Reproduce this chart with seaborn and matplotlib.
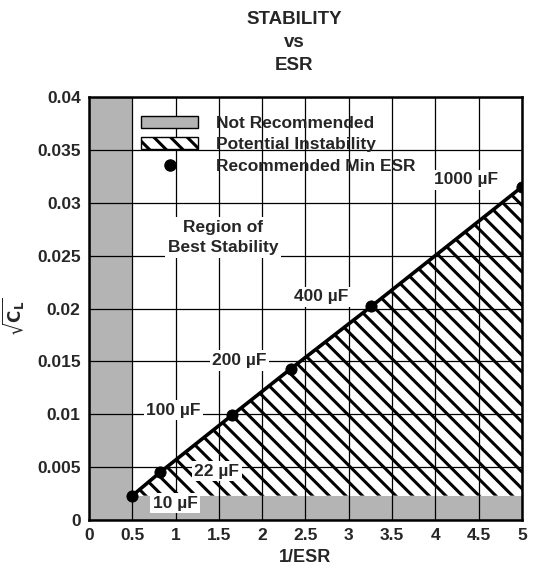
import matplotlib
matplotlib.use("Agg")
import matplotlib.pyplot as plt
import seaborn as sns
from matplotlib.patches import Patch
from matplotlib.lines import Line2D
from matplotlib.ticker import FormatStrFormatter

# capacitor values and their recommended minimum ESR points
cap_labels = ["10 \u00b5F", "22 \u00b5F", "100 \u00b5F", "200 \u00b5F", "400 \u00b5F", "1000 \u00b5F"]
inv_esr = [0.5, 0.82, 1.65, 2.33, 3.26, 5.0]
sqrt_cl = [0.0023, 0.0045, 0.0099, 0.0143, 0.0202, 0.0315]

# not recommended limits
min_inv_esr = 0.5
min_sqrt_cl = 0.0023

x_ticks = [0, 0.5, 1, 1.5, 2, 2.5, 3, 3.5, 4, 4.5, 5]
y_ticks = [0, 0.005, 0.01, 0.015, 0.02, 0.025, 0.03, 0.035, 0.04]

# label offsets in points (dx, dy) relative to each point
label_offsets = [(31, -5.5), (41, 1), (-42, 3.6), (-37, 6), (-36, 7), (-40, 5)]

sns.set_style("white")
plt.rcParams["font.family"] = ["Liberation Sans", "DejaVu Sans"]
plt.rcParams["font.weight"] = "bold"
plt.rcParams["hatch.linewidth"] = 2.2

fig = plt.figure(figsize=(5.36, 5.76), dpi=100)
ax = fig.add_axes([0.166, 0.0972, 0.8078, 0.7344])

grey = "#b4b4b4"
ax.axvspan(0, min_inv_esr, color=grey, lw=0, zorder=1)
ax.axhspan(0, min_sqrt_cl, color=grey, lw=0, zorder=1)
ax.fill_between(inv_esr, min_sqrt_cl, sqrt_cl, facecolor="white", edgecolor="black",
                hatch="\\\\", linewidth=0, zorder=1.2)

sns.lineplot(x=inv_esr, y=sqrt_cl, color="black", linewidth=2.6, ax=ax, zorder=3)
sns.scatterplot(x=inv_esr, y=sqrt_cl, color="black", s=65, edgecolor="black", ax=ax, zorder=4)

fs = 12.5
for lab, x, y, off in zip(cap_labels, inv_esr, sqrt_cl, label_offsets):
    ax.annotate(lab, (x, y), textcoords="offset points", xytext=off, ha="center", va="center",
                fontsize=fs, fontweight="bold", zorder=5,
                bbox=dict(boxstyle="square,pad=0.15", fc="white", ec="none"))

ax.text(1.55, 0.0267, "Region of\nBest Stability", ha="center", va="center", fontsize=fs,
        fontweight="bold", linespacing=1.45, zorder=5,
        bbox=dict(boxstyle="square,pad=0.15", fc="white", ec="none"))

ax.set_xlim(0, 5)
ax.set_ylim(0, 0.04)
ax.set_xticks(x_ticks)
ax.set_yticks(y_ticks)
ax.xaxis.set_major_formatter(FormatStrFormatter("%g"))
ax.yaxis.set_major_formatter(FormatStrFormatter("%g"))
ax.tick_params(length=0, labelsize=fs, pad=6)
for t in ax.get_xticklabels() + ax.get_yticklabels():
    t.set_fontweight("bold")

ax.set_axisbelow(False)
ax.grid(True, color="black", linewidth=0.9)
for s in ax.spines.values():
    s.set_visible(True)
    s.set_color("black")
    s.set_linewidth(1.8)
    s.set_zorder(6)

ax.set_xlabel("1/ESR", fontsize=13, fontweight="bold", labelpad=4)
ax.set_ylabel(r"$\mathbf{\sqrt{C_L}}$", fontsize=12, labelpad=6)
ax.yaxis.set_label_coords(-0.142, 0.48)

handles = [
    Patch(facecolor=grey, edgecolor="black", linewidth=1.0),
    Patch(facecolor="white", edgecolor="black", hatch="\\\\", linewidth=1.0),
    Line2D([], [], marker="o", color="black", linestyle="none", markersize=8),
]
ax.legend(handles, ["Not Recommended", "Potential Instability", "Recommended Min ESR"],
          loc="upper left", bbox_to_anchor=(0.12, 0.955), frameon=False, borderpad=0,
          borderaxespad=0, handlelength=3.3, handleheight=0.65, handletextpad=1.0,
          labelspacing=0.36, prop={"weight": "bold", "size": fs})

fig.text(0.549, 0.981, "STABILITY\nvs\nESR", ha="center", va="top", fontsize=13.5,
         fontweight="bold", linespacing=1.45)

fig.savefig("out.png", dpi=100)
